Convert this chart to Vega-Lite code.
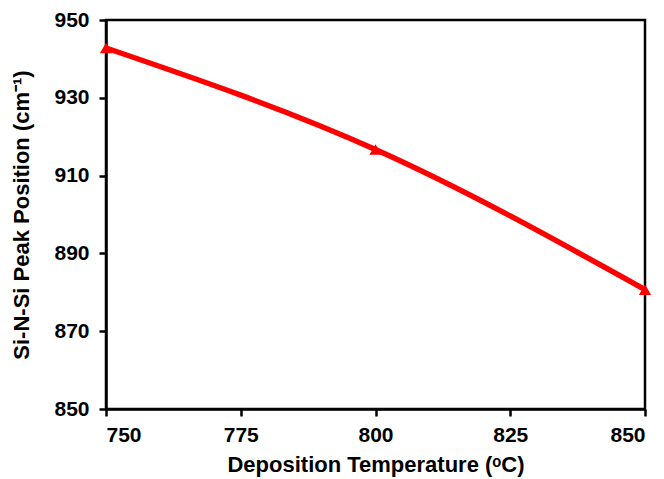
{
  "$schema": "https://vega.github.io/schema/vega-lite/v6.json",
  "autosize": "none",
  "width": 539,
  "height": 389,
  "padding": {"left": 106, "top": 20, "right": 19, "bottom": 70},
  "background": "white",
  "config": {
    "view": {"stroke": "black", "strokeWidth": 2.5},
    "font": "Liberation Sans"
  },
  "data": {"values": [
    {"temp": 750, "peak": 942.8},
    {"temp": 800, "peak": 916.7},
    {"temp": 850, "peak": 880.7}
  ]},
  "encoding": {
    "x": {"field": "temp", "type": "quantitative",
      "scale": {"domain": [750, 850], "nice": false, "zero": false},
      "axis": {"values": [750, 775, 800, 825, 850], "title": "Deposition Temperature (ᵒC)",
        "grid": false, "domainColor": "black", "domainWidth": 2.5, "tickColor": "black", "tickWidth": 2.5, "tickSize": 7,
        "labelFont": "Liberation Sans", "labelFontSize": 21, "labelFontWeight": "bold", "labelColor": "black", "labelPadding": 8,
        "titleFont": "Liberation Sans", "titleFontSize": 22, "titleFontWeight": "bold", "titleColor": "black", "titlePadding": 9}},
    "y": {"field": "peak", "type": "quantitative",
      "scale": {"domain": [850, 950], "nice": false, "zero": false},
      "axis": {"values": [850, 870, 890, 910, 930, 950], "title": "Si-N-Si Peak Position (cm⁻¹)",
        "grid": false, "domainColor": "black", "domainWidth": 2.5, "tickColor": "black", "tickWidth": 2.5, "tickSize": 7,
        "labelFont": "Liberation Sans", "labelFontSize": 21, "labelFontWeight": "bold", "labelColor": "black", "labelPadding": 10,
        "titleFont": "Liberation Sans", "titleFontSize": 22, "titleFontWeight": "bold", "titleColor": "black", "titlePadding": 20}}
  },
  "layer": [
    {"mark": {"type": "line", "color": "#ff0000", "strokeWidth": 5.5, "interpolate": "monotone"}},
    {"mark": {"type": "point", "shape": "triangle-up", "filled": true, "color": "#ff0000", "size": 150, "opacity": 1}}
  ]
}
